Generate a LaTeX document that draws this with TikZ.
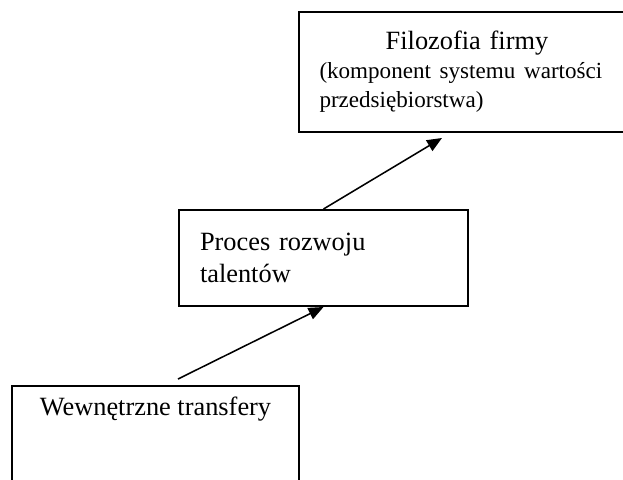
\documentclass[tikz,border=0pt]{standalone}
\usepackage{fontspec}
\setmainfont{Liberation Serif}
\usepackage{tikz}
\usetikzlibrary{positioning, arrows.meta}
\tikzstyle{box} = [rectangle, draw=black, line width=0.9pt, inner sep=0pt, font=\fontsize{12}{14.5}\selectfont]
\tikzstyle{arrow} = [line width=0.7pt,-{Triangle[length=6.8pt,width=5.6pt]}]

\begin{document}
\begin{tikzpicture}[node distance=3cm and 2.5cm, on grid]
	\useasboundingbox (0,0) rectangle (9.968,7.664);
	\node (filo) [box, minimum width=5.376cm, minimum height=1.92cm, inner xsep=0.328cm, text width=4.72cm, align=left, font=\fontsize{12}{13.2}\selectfont] at (7.472,6.512)
		{\makebox[\linewidth][c]{Filozofia firmy}\\ {\fontsize{10.5}{13.2}\selectfont\makebox[\linewidth][s]{(komponent systemu wartości}\\ przedsiębiorstwa)}};
	\node (proces) [box, below left=2.976cm and 2.296cm of filo, minimum width=4.624cm, minimum height=1.536cm, inner xsep=0.336cm, text width=3.952cm, align=left] {Proces rozwoju\\ talentów};
	\node (wew) [box, below left=2.88cm and 2.688cm of proces, minimum width=4.592cm, text height=0.464cm, text depth=1.2cm, align=center] {Wewnętrzne transfery};
	
	\draw [arrow] ([xshift=0.36cm,yshift=0.096cm]wew.north) -- (proces.south);
	\draw [arrow] (proces.north) -- ([xshift=-0.4cm,yshift=-0.08cm]filo.south);
	
\end{tikzpicture}
\end{document}
